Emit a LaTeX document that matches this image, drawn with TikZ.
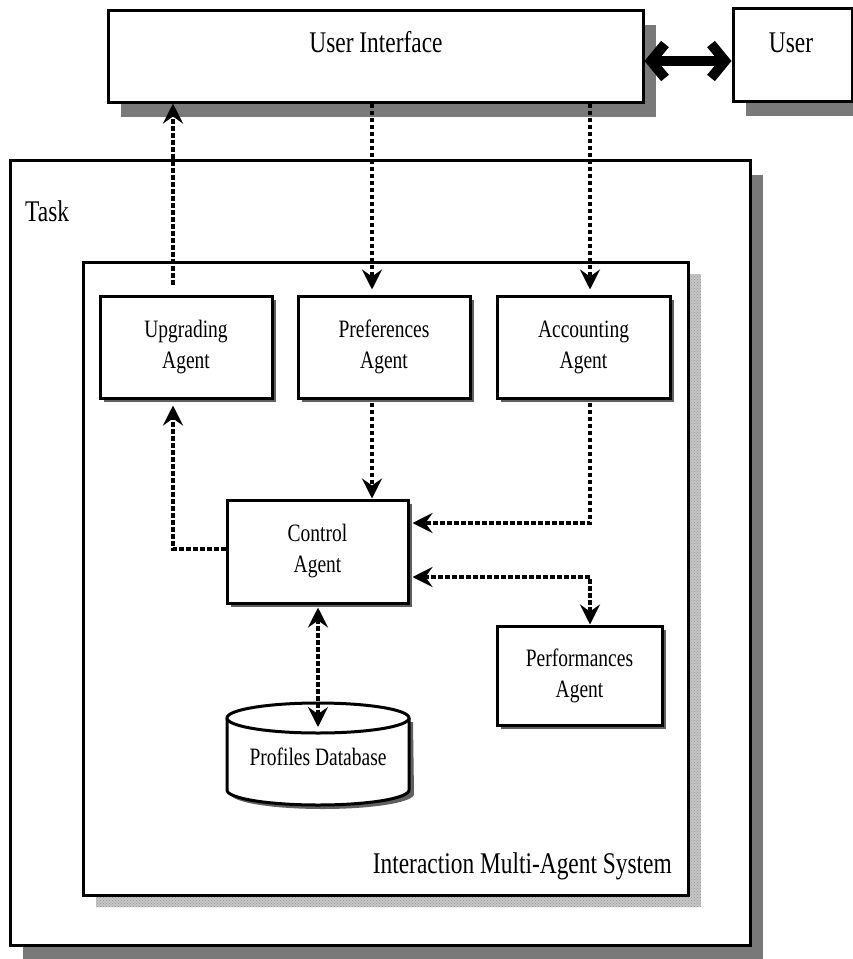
\documentclass[tikz,border=0pt]{standalone}
\usepackage{fontspec}
\setmainfont[FakeStretch=0.78]{Liberation Serif}
\usetikzlibrary{arrows.meta,shadows,patterns}

\tikzset{
  agtip/.tip={Stealth[length=20pt,width=20pt,inset=7pt]},
  frame/.style={draw,line width=3pt,fill=white,inner sep=0pt,align=center},
  bigshadow/.style={drop shadow={shadow xshift=13pt,shadow yshift=-15pt,fill=gray!95!black,opacity=1}},
  smallshadow/.style={drop shadow={shadow xshift=4pt,shadow yshift=-4pt,fill=gray!75!black,opacity=1}},
  agent/.style={frame,smallshadow,minimum width=172pt,minimum height=102pt,
    font=\fontsize{25}{31}\selectfont},
  bigtext/.style={font=\fontsize{30}{36}\selectfont,inner sep=0pt},
  flow/.style={line width=4pt,dash pattern=on 4.5pt off 2.5pt,-agtip},
  twoway/.style={line width=4pt,dash pattern=on 4.5pt off 2.5pt,agtip-agtip},
}

\begin{document}
\begin{tikzpicture}[x=1pt,y=-1pt]
\useasboundingbox[fill=white] (0,0) rectangle (853,959);

% outer task frame
\node[frame,bigshadow,minimum width=740pt,minimum height=785pt] (task) at (380,552.5) {};
\node[bigtext,anchor=base west] (tasklbl) at (25,221) {Task};

% stippled shadow behind the multi-agent system frame
\fill[gray!45] (96,274) rectangle (701,907);
\fill[pattern=crosshatch dots,pattern color=gray!85] (96,274) rectangle (701,907);
\node[frame,minimum width=605pt,minimum height=633pt] (imas) at (385.5,578.5) {};
\node[bigtext,anchor=base east] (imaslbl) at (672,873) {Interaction Multi-Agent System};

% user side
\node[frame,bigshadow,minimum width=535pt,minimum height=92pt] (ui) at (375.5,56) {};
\node[bigtext,anchor=base] (uilbl) at (376,52) {User Interface};
\node[frame,bigshadow,minimum width=119pt,minimum height=93pt] (user) at (792.5,54.5) {};
\node[bigtext,anchor=base] (userlbl) at (791,52) {User};
\draw[line width=10pt,{Straight Barb[length=14pt,width=34pt]}-{Straight Barb[length=14pt,width=34pt]}]
  (ui.east |- 0,61) -- (user.west |- 0,61);

% agents
\node[agent] (upg) at (186,347) {Upgrading\\Agent};
\node[agent] (pref) at (384,347) {Preferences\\Agent};
\node[agent,minimum width=173pt] (acc) at (583.5,347) {Accounting\\Agent};
\node[agent,minimum width=181pt,minimum height=103pt] (ctrl) at (317.5,551.5) {Control\\Agent};
\node[agent,minimum width=165pt,minimum height=99pt] (perf) at (579.5,675.5) {Performances\\Agent};

% profiles database (cylinder)
\fill[gray!75!black] (231,722) -- (231,794) arc[start angle=180,end angle=360,x radius=91.5pt,y radius=15pt] -- (413,722) -- cycle;
\draw[line width=3pt,fill=white] (227,718) -- (227,790) arc[start angle=180,end angle=360,x radius=91pt,y radius=15pt] -- (409,718);
\draw[line width=3pt,fill=white] (318,718) ellipse[x radius=91pt,y radius=15pt];
\node[font=\fontsize{25}{30}\selectfont,inner sep=0pt] (db) at (318,757) {Profiles Database};
\coordinate (dbtop) at (318,727);

% routing columns and rows
\coordinate (c1) at (173,0);
\coordinate (c2) at (372,0);
\coordinate (c3) at (590,0);
\coordinate (c4) at (318,0);
\coordinate (r1) at (0,523);
\coordinate (r2) at (0,577);
\coordinate (r3) at (0,549);

% connectors
\draw[flow,shorten <=10pt] (upg.north -| c1) -- (ui.south -| c1);
\draw[flow,shorten >=5pt] (ui.south -| c2) -- (pref.north -| c2);
\draw[flow,shorten >=5pt] (ui.south -| c3) -- (acc.north -| c3);
\draw[flow,shorten <=3pt] (pref.south -| c2) -- (ctrl.north -| c2);
\draw[flow,shorten >=6pt] (ctrl.west |- r3) -- (c1 |- r3) -- (upg.south -| c1);
\draw[flow,shorten <=3pt,shorten >=3pt] (acc.south -| c3) -- (c3 |- r1) -- (ctrl.east |- r1);
\draw[twoway,shorten <=3pt] (ctrl.east |- r2) -- (c3 |- r2) -- (perf.north -| c3);
\draw[twoway,shorten <=3pt] (ctrl.south -| c4) -- (dbtop);
\end{tikzpicture}
\end{document}
